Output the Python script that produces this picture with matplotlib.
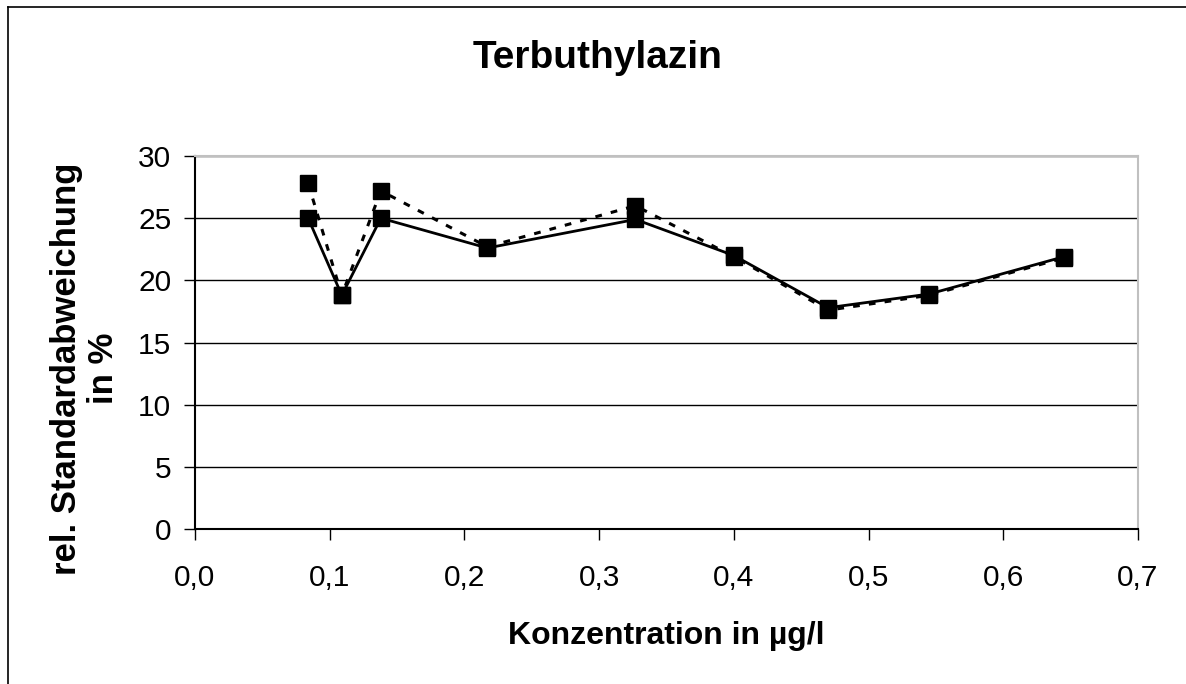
import matplotlib
matplotlib.use("Agg")
import matplotlib.pyplot as plt
from matplotlib.lines import Line2D
from matplotlib.ticker import FuncFormatter

plt.rcParams["font.family"] = ["Liberation Sans", "DejaVu Sans"]

# Konzentration in µg/l
konz = [0.084, 0.109, 0.138, 0.217, 0.327, 0.400, 0.470, 0.545, 0.645]
# rel. Standardabweichung in %
rsd_solid = [25.0, 18.8, 25.0, 22.6, 24.9, 22.0, 17.8, 18.9, 21.9]
rsd_dashed = [27.8, 18.8, 27.2, 22.7, 26.0, 21.9, 17.6, 18.8, 21.8]

fig = plt.figure(figsize=(11.86, 6.84), dpi=100)
ax = fig.add_axes([0.1644, 0.2266, 0.7951, 0.5453])

ax.plot(konz, rsd_dashed, color="black", lw=2.2, ls=(0, (2.2, 3.0)),
        marker="s", ms=11, mfc="black", mec="black", zorder=3)
ax.plot(konz, rsd_solid, color="black", lw=2.0, ls="-",
        marker="s", ms=11, mfc="black", mec="black", zorder=4)

ax.set_xlim(0, 0.7)
ax.set_ylim(0, 30)
ax.set_xticks([0.0, 0.1, 0.2, 0.3, 0.4, 0.5, 0.6, 0.7])
ax.set_yticks([0, 5, 10, 15, 20, 25, 30])
ax.xaxis.set_major_formatter(FuncFormatter(lambda v, p: f"{v:.1f}".replace(".", ",")))
ax.yaxis.set_major_formatter(FuncFormatter(lambda v, p: f"{v:.0f}"))
ax.tick_params(axis="both", labelsize=21.5, length=8, width=1, color="black")
ax.tick_params(axis="x", pad=17)
ax.tick_params(axis="y", pad=9)

ax.grid(axis="y", color="black", lw=1.0)
ax.set_axisbelow(True)
ax.spines["left"].set_color("black")
ax.spines["bottom"].set_color("black")
ax.spines["top"].set_color("#c0c0c0")
ax.spines["right"].set_color("#c0c0c0")
for s in ax.spines.values():
    s.set_linewidth(1.5)

ax.set_xlabel("Konzentration in µg/l", fontsize=23, fontweight="bold", labelpad=21)
ax.set_ylabel("rel. Standardabweichung\nin %", fontsize=25, fontweight="bold",
              linespacing=1.15)
ax.yaxis.set_label_coords(-0.08, 0.43)
fig.text(0.504, 0.915, "Terbuthylazin", ha="center", va="center",
         fontsize=28, fontweight="bold")

# chart frame (top and left edges visible)
fig.add_artist(Line2D([0.0068, 0.0068], [0.0, 0.9898], color="black", lw=1.2,
                      transform=fig.transFigure))
fig.add_artist(Line2D([0.0068, 1.0], [0.9898, 0.9898], color="black", lw=1.2,
                      transform=fig.transFigure))

fig.savefig("out.png", dpi=100)
